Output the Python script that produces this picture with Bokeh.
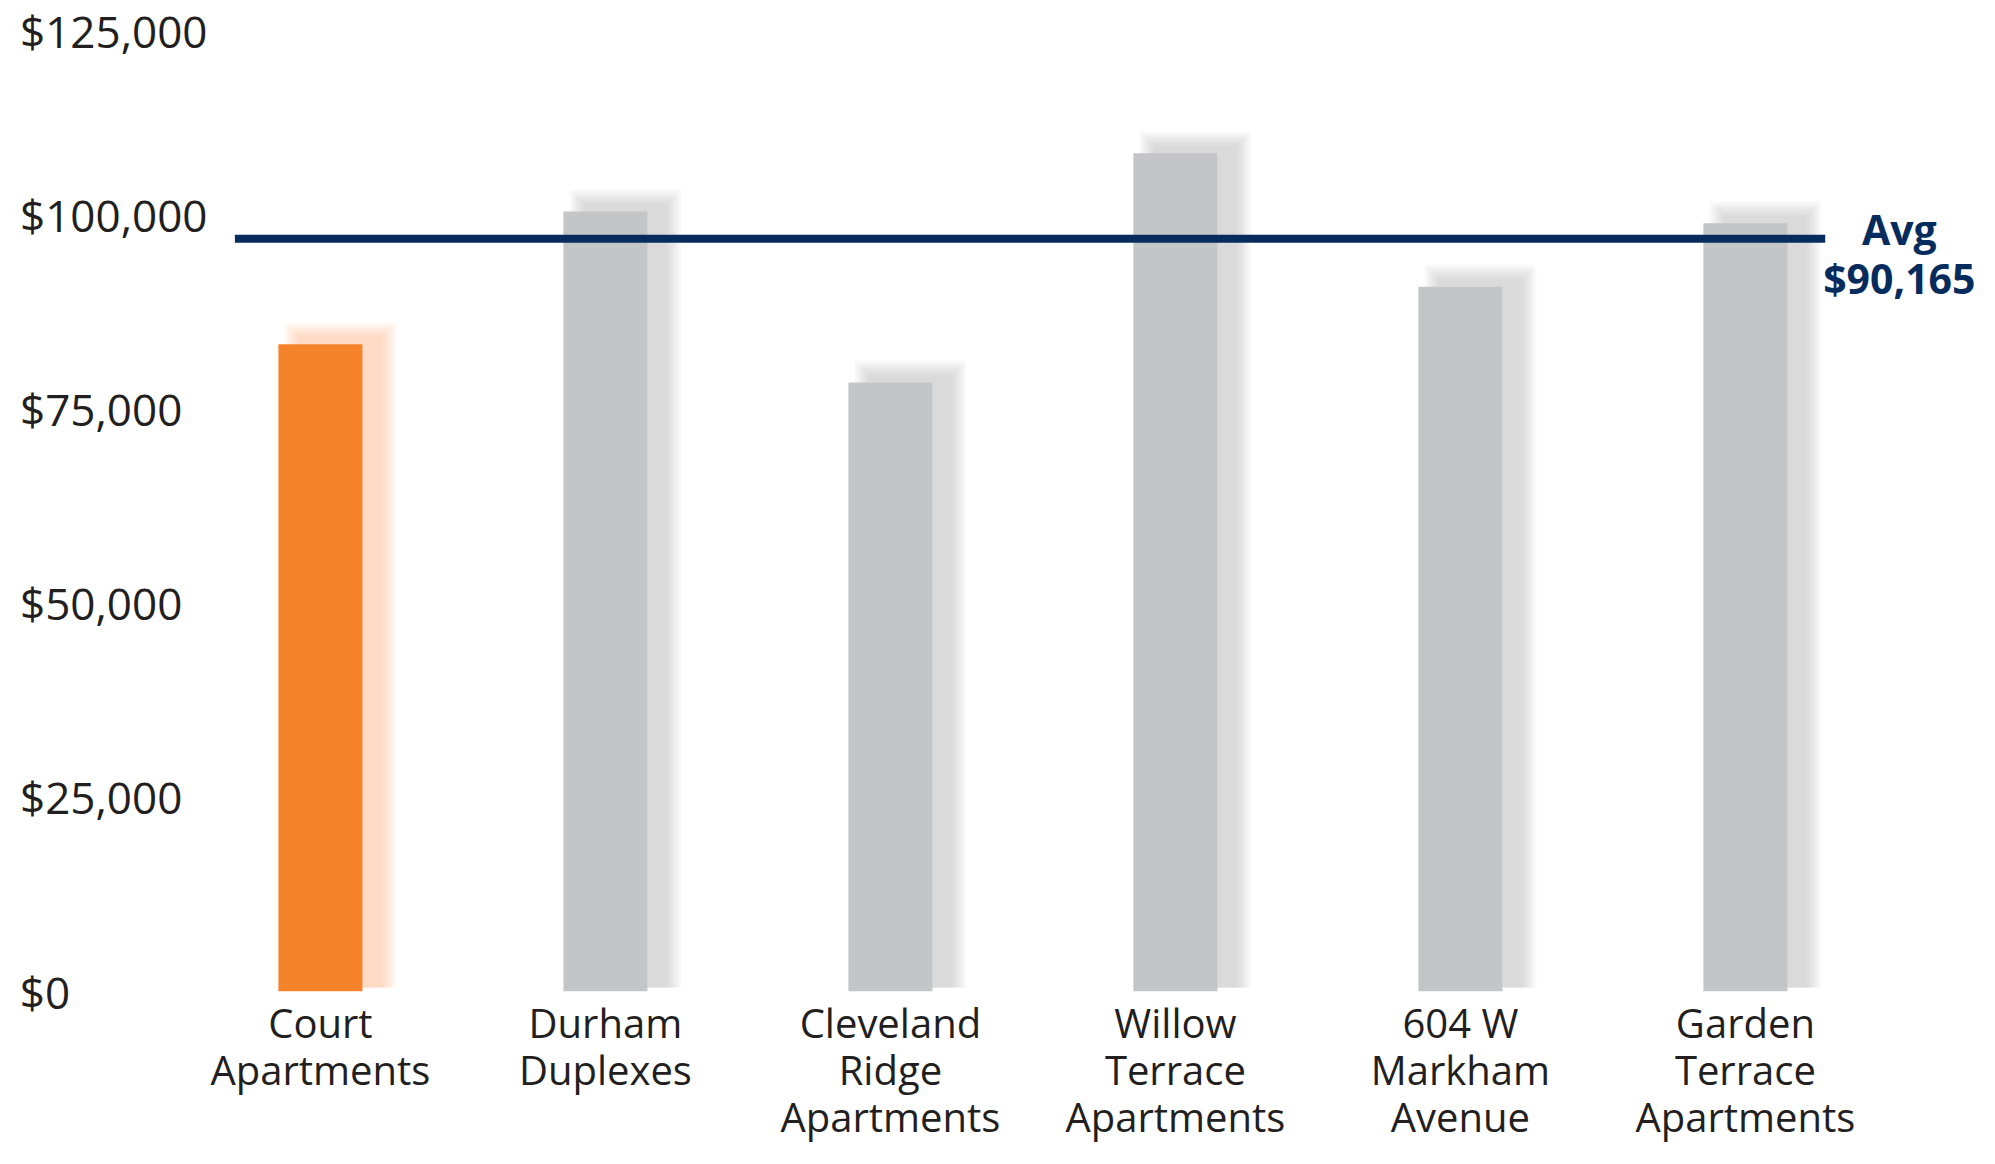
import numpy as np
from bokeh.plotting import figure
from bokeh.models import Range1d, FixedTicker, Label, ColumnDataSource
from bokeh.embed import file_html
from bokeh.resources import INLINE

# ---- data ----
categories = ["Court\nApartments", "Durham\nDuplexes", "Cleveland\nRidge\nApartments",
              "Willow\nTerrace\nApartments", "604 W\nMarkham\nAvenue", "Garden\nTerrace\nApartments"]
values = [83300, 100400, 78400, 107900, 90700, 98900]
highlight = [True, False, False, False, False, False]
y_ticks = [0, 25000, 50000, 75000, 100000, 125000]
y_tick_labels = ["$0", "$25,000", "$50,000", "$75,000", "$100,000", "$125,000"]
avg_line_level = 96900
avg_label = "Avg\n$90,165"

# ---- styles ----
ORANGE = "#F5832A"
GREY = "#C4C5C7"
NAVY = "#062C5E"
TEXT = "#231F20"
FONT = "Open Sans"

n = len(categories)
xs = np.arange(n, dtype=float)
vals = np.array(values, dtype=float)
colors = [ORANGE if h else GREY for h in highlight]
shadow_colors = [ORANGE if h else "#9a9a9a" for h in highlight]

FIG_W, FIG_H = 1979, 1156
LEFT_BORDER, BOTTOM_BORDER = 223, 165
Y_END = 127559
PX_X = 285.0                                   # pixels per category unit
PX_Y = (FIG_H - BOTTOM_BORDER) / Y_END         # pixels per dollar
bar_w = 84 / PX_X
x_start = -0.34
x_end = x_start + (FIG_W - LEFT_BORDER) / PX_X

p = figure(width=FIG_W, height=FIG_H,
           x_range=Range1d(x_start, x_end), y_range=Range1d(0, Y_END),
           output_backend="svg", toolbar_location=None,
           min_border_left=LEFT_BORDER, min_border_right=0, min_border_top=0,
           min_border_bottom=BOTTOM_BORDER)
p.outline_line_color = None
p.grid.visible = False
p.background_fill_color = "white"
p.border_fill_color = "white"

# soft shadows (layered translucent quads)
dx = 20 / PX_X
dy = 8 / PX_Y
for e in np.arange(0, 16, 2):
    ex = e / PX_X
    ey = e / PX_Y
    src = ColumnDataSource(dict(
        left=xs + dx - bar_w / 2 - ex,
        right=xs + dx + bar_w / 2 + ex,
        top=vals + dy + ey,
        bottom=np.zeros(n) + 4 / PX_Y,
        color=shadow_colors,
        alpha=[0.04 if h else 0.046 for h in highlight],
    ))
    p.quad(left="left", right="right", top="top", bottom="bottom", source=src,
           fill_color="color", fill_alpha="alpha", line_color=None)

# bars
bars = ColumnDataSource(dict(x=xs, top=vals, color=colors))
p.vbar(x="x", top="top", bottom=0, width=bar_w, source=bars, fill_color="color", line_color=None)

# average line
p.segment(x0=[-0.30], x1=[n - 1 + 0.28], y0=[avg_line_level], y1=[avg_line_level],
          line_color=NAVY, line_width=8)
p.add_layout(Label(x=n - 1 + 0.54, y=avg_line_level, y_offset=-15, text=avg_label,
                   text_align="center", text_baseline="middle", text_font=FONT,
                   text_font_style="bold", text_font_size="41px", text_color=NAVY,
                   text_line_height=0.88))

# left-aligned look for the right-aligned tick labels: pad with figure/punctuation spaces
def pad_left_aligned(label, widest):
    digits = sum(ch.isdigit() for ch in widest) - sum(ch.isdigit() for ch in label)
    commas = widest.count(",") - label.count(",")
    return label + "\u2007" * digits + "\u2008" * commas

widest_label = max(y_tick_labels, key=len)

# axes
xa = p.xaxis[0]
xa.ticker = FixedTicker(ticks=list(xs))
xa.major_label_overrides = {float(i): c for i, c in enumerate(categories)}
ya = p.yaxis[0]
ya.ticker = FixedTicker(ticks=y_ticks)
ya.major_label_overrides = {float(t): pad_left_aligned(l, widest_label)
                            for t, l in zip(y_ticks, y_tick_labels)}
for ax in (xa, ya):
    ax.axis_line_color = None
    ax.major_tick_line_color = None
    ax.minor_tick_line_color = None
    ax.major_tick_out = 0
    ax.major_tick_in = 0
    ax.major_label_text_font = FONT
    ax.major_label_text_color = TEXT
xa.major_label_text_font_size = "40px"
xa.major_label_text_line_height = 0.86
xa.major_label_standoff = 3
ya.major_label_text_font_size = "44px"
ya.major_label_standoff = 16

open("out.html", "w").write(file_html(p, INLINE))
